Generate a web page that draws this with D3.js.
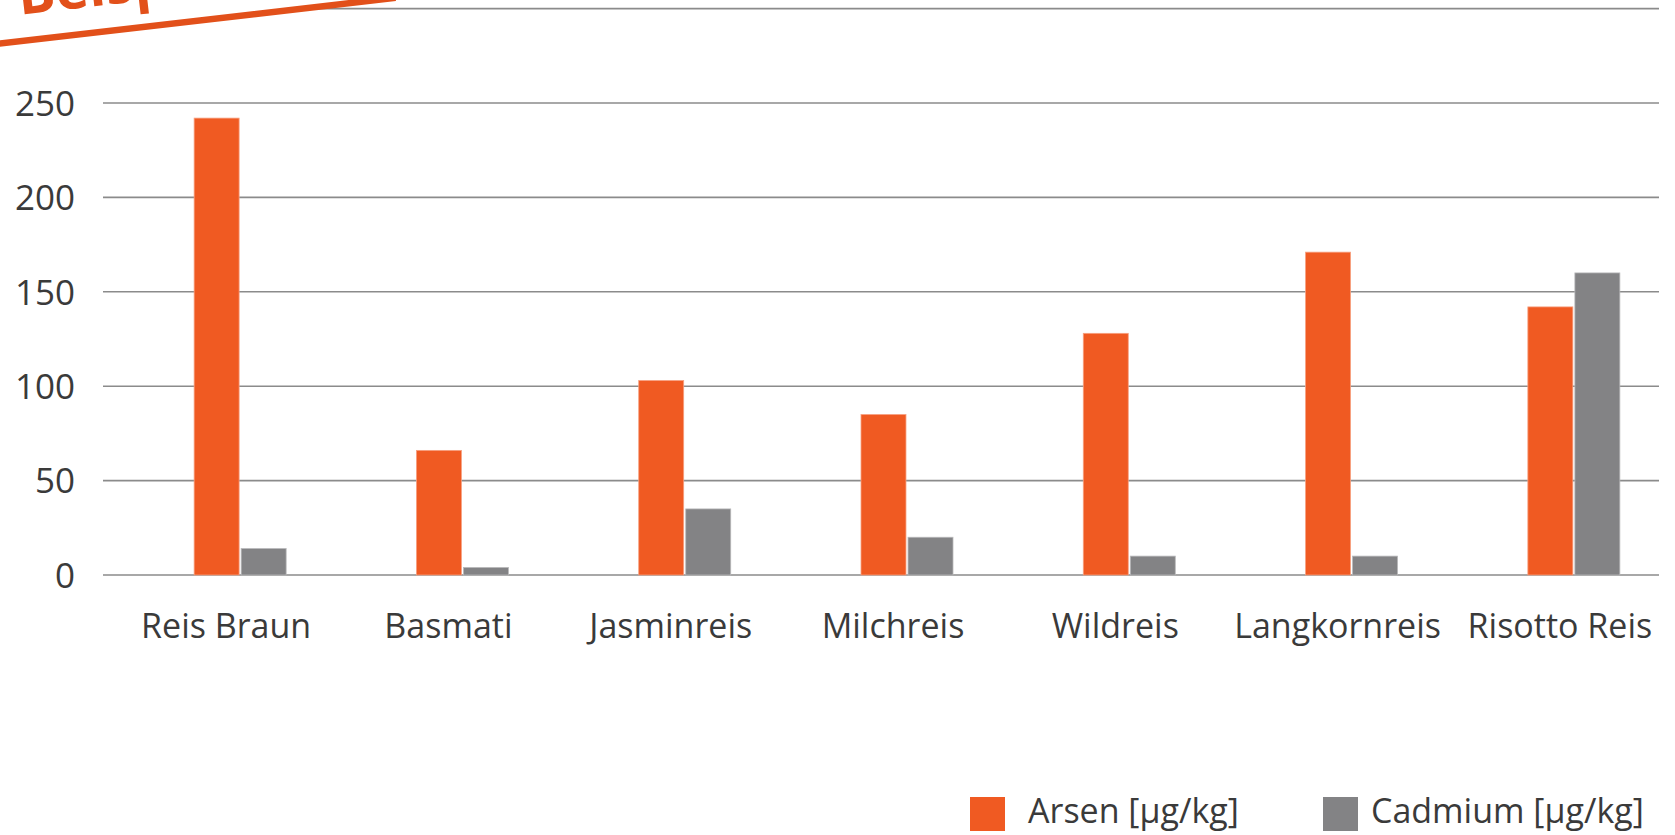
<!DOCTYPE html>
<html>
<head>
<meta charset="utf-8">
<script src="https://cdn.jsdelivr.net/npm/d3@7"></script>
<style>
  html, body { margin: 0; padding: 0; background: #fff; }
  svg { display: block; }
  text { font-family: "Open Sans", sans-serif; fill: #3a3a3a; }
</style>
</head>
<body>
<svg id="chart" width="1675" height="835"></svg>
<script>
const categories = ["Reis Braun", "Basmati", "Jasminreis", "Milchreis", "Wildreis", "Langkornreis", "Risotto Reis"];
const arsen   = [242, 66, 103, 85, 128, 171, 142];
const cadmium = [14, 4, 35, 20, 10, 10, 160];
const seriesNames = ["Arsen [µg/kg]", "Cadmium [µg/kg]"];
const seriesColors = ["#f05a22", "#838385"];
const gridTicks = [0, 50, 100, 150, 200, 250, 300];
const yTickLabels = [0, 50, 100, 150, 200, 250];
const stampText = "Beispiel";

const W = 1675, H = 835;
const plotLeft = 103, plotRight = 1659;
const svg = d3.select("#chart");

const y = d3.scaleLinear().domain([0, 300]).range([575, 8.6]);
const x = d3.scaleBand().domain(categories).range([129, 1685]).paddingInner(0).paddingOuter(0);
const barW = 44, barGap = 4;
const groupW = barW * 2 + barGap;
const xs = d3.scaleBand().domain([0, 1]).range([0, groupW]).paddingInner(barGap / groupW);

// gridlines
svg.append("g").selectAll("line").data(gridTicks).join("line")
  .attr("x1", plotLeft).attr("x2", plotRight)
  .attr("y1", d => y(d)).attr("y2", d => y(d))
  .attr("stroke", "#8b8b8b").attr("stroke-width", 1.6);

// y labels
const yAxis = d3.axisLeft(y).tickValues(yTickLabels).tickSize(0).tickPadding(0);
const yg = svg.append("g").attr("transform", `translate(75,0)`).call(yAxis);
yg.select(".domain").remove();
yg.selectAll("text").style("font-size", "35px").attr("fill", "#3a3a3a").attr("dy", "0.35em");

// bars
const series = [arsen, cadmium];
const gBars = svg.append("g");
categories.forEach((c, i) => {
  const gx = x(c) + (x.bandwidth() - groupW) / 2;
  series.forEach((vals, s) => {
    gBars.append("rect")
      .attr("x", gx + xs(s))
      .attr("width", xs.bandwidth())
      .attr("y", y(vals[i]))
      .attr("height", y(0) - y(vals[i]))
      .attr("fill", seriesColors[s])
      .attr("stroke", s === 0 ? "#f7a080" : "#b8b8ba")
      .attr("stroke-width", 0.8);
  });
});

// x labels
const xAxis = d3.axisBottom(x).tickSize(0).tickPadding(0);
const xg = svg.append("g").attr("transform", `translate(-14,638)`).call(xAxis);
xg.select(".domain").remove();
xg.selectAll("text").style("font-size", "34px").attr("fill", "#3a3a3a").attr("dy", "0");

// legend
const legendItems = [
  { name: seriesNames[0], color: seriesColors[0], x: 970, tx: 58 },
  { name: seriesNames[1], color: seriesColors[1], x: 1323, tx: 48 }
];
const lg = svg.append("g");
legendItems.forEach(it => {
  lg.append("rect").attr("x", it.x).attr("y", 797).attr("width", 35).attr("height", 34).attr("fill", it.color);
  lg.append("text").attr("x", it.x + it.tx).attr("y", 823).style("font-size", "34px").text(it.name);
});

// stamp
const stamp = svg.append("g").attr("transform", "rotate(-6.58)");
stamp.append("rect").attr("x", -60).attr("y", -120).attr("width", 450).attr("height", 163.2)
  .attr("fill", "#fff").attr("stroke", "#e2501a").attr("stroke-width", 6.5);
stamp.append("text").attr("x", 18).attr("y", 17).text(stampText)
  .style("font-size", "56px").style("font-weight", "bold").style("fill", "#e2501a");
</script>
</body>
</html>
